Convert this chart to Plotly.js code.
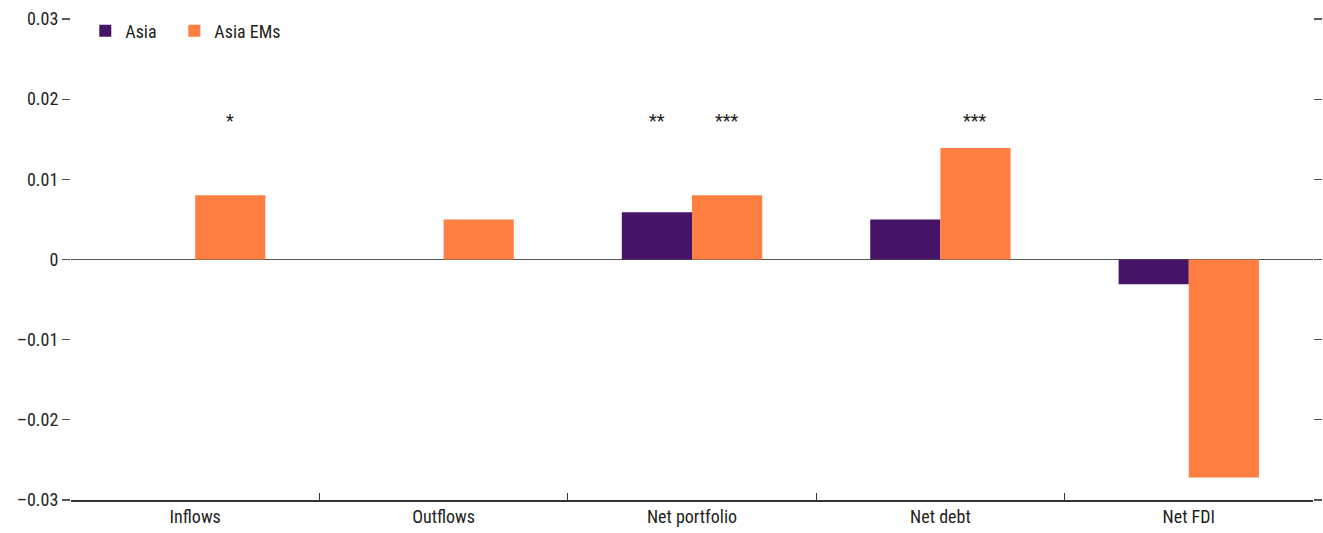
<!DOCTYPE html>
<html>
<head>
<meta charset="utf-8">
<script src="https://cdn.plot.ly/plotly-3.0.1.min.js"></script>
<style>
  html, body { margin: 0; padding: 0; background: #fff; }
  #chart { width: 1323px; height: 533px; }
</style>
</head>
<body>
<div id="chart"></div>
<script>
// Capital flow responses by flow type
const categories = ['Inflows', 'Outflows', 'Net portfolio', 'Net debt', 'Net FDI'];
const asiaValues = [0, 0, 0.0059, 0.005, -0.0031];
const asiaEMsValues = [0.008, 0.005, 0.008, 0.0139, -0.0272];

// Significance markers
const asiaStars = ['', '', '**', '', ''];
const asiaEMsStars = ['*', '', '***', '***', ''];
const starLevel = 0.0174;

const tickValues = [-0.03, -0.02, -0.01, 0, 0.01, 0.02, 0.03];
const tickLabels = ['\u20130.03', '\u20130.02', '\u20130.01', '0', '0.01', '0.02', '0.03'];

const FONT = '"Liberation Sans Narrow", "Arial Narrow", "Roboto Condensed", "Liberation Sans", sans-serif';
const TEXT = '#231f20';

const traces = [
  { type: 'bar', name: 'Asia', x: categories, y: asiaValues, legend: 'legend',
    marker: { color: '#461467' }, hoverinfo: 'skip' },
  { type: 'bar', name: 'Asia EMs', x: categories, y: asiaEMsValues, legend: 'legend2',
    marker: { color: '#fe7f41' }, hoverinfo: 'skip' }
];

const annotations = [];
categories.forEach((c, i) => {
  if (asiaStars[i]) annotations.push({ x: c, y: starLevel, text: asiaStars[i], xshift: -35,
    showarrow: false, font: { family: FONT, size: 18, color: TEXT } });
  if (asiaEMsStars[i]) annotations.push({ x: c, y: starLevel, text: asiaEMsStars[i], xshift: 35,
    showarrow: false, font: { family: FONT, size: 18, color: TEXT } });
});

const legendStyle = {
  orientation: 'h', y: 0.975, xanchor: 'left', yanchor: 'middle',
  bgcolor: 'rgba(0,0,0,0)', font: { family: FONT, size: 18, color: TEXT }, itemwidth: 30
};

const layout = {
  width: 1323, height: 533,
  margin: { l: 71, r: 10, t: 19, b: 33, autoexpand: false },
  paper_bgcolor: '#fff', plot_bgcolor: '#fff',
  font: { family: FONT, size: 18, color: TEXT },
  barmode: 'group',
  bargap: 0.435, bargroupgap: 0,
  showlegend: true,
  legend: Object.assign({ x: 0.0115 }, legendStyle),
  legend2: Object.assign({ x: 0.0832 }, legendStyle),
  xaxis: {
    type: 'category', showgrid: false, zeroline: false,
    showline: true, linecolor: '#333', linewidth: 1.5,
    ticks: 'inside', tickson: 'boundaries', ticklen: 7, tickcolor: '#333', tickwidth: 1,
    tickfont: { family: FONT, size: 18, color: TEXT }
  },
  yaxis: {
    range: [-0.03, 0.03], tickvals: tickValues, ticktext: tickLabels,
    showgrid: false, showline: false, mirror: 'ticks',
    ticks: 'outside', ticklen: 8, tickcolor: '#555', tickwidth: 1.2,
    zeroline: true, zerolinecolor: '#555', zerolinewidth: 1.5,
    tickfont: { family: FONT, size: 18, color: TEXT }
  },
  annotations: annotations
};

Plotly.newPlot('chart', traces, layout, { staticPlot: true, displayModeBar: false });
</script>
</body>
</html>
